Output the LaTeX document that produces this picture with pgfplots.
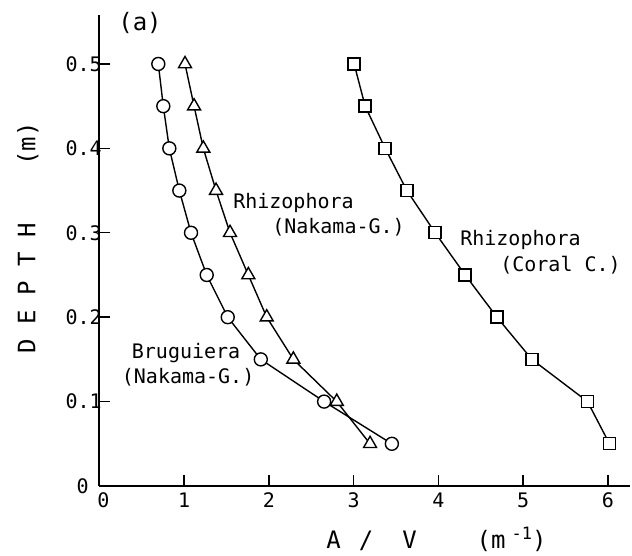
\documentclass[border=0pt]{standalone}
\usepackage{pgfplots}
\pgfplotsset{compat=1.18}
\usepackage{fontspec}
\setmainfont{DejaVu Sans Mono}
\begin{document}
\begin{tikzpicture}
\path[use as bounding box] (0,0) rectangle (632bp,556bp);
\begin{axis}[
 at={(99.3bp,70bp)}, anchor=south west,
 scale only axis, width=530.7bp, height=471bp,
 xmin=0, xmax=6.26, ymin=0, ymax=0.558,
 axis lines=left, axis line style={-, line width=1.6bp},
 xtick={0,1,2,3,4,5,6}, ytick={0,0.1,0.2,0.3,0.4,0.5},
 xticklabels={\hspace{8bp}0,1,2,3,4,5,6},
 yticklabels={\raisebox{-4bp}{0}\kern13bp\null,0.1,0.2,0.3,0.4,0.5},
 tick align=inside, major tick length=11bp,
 tick style={line width=1.4bp, black},
 /pgf/number format/assume math mode=true,
 ticklabel style={font=\fontsize{20bp}{24bp}\selectfont},
 yticklabel style={xshift=6bp},
 xticklabel style={yshift=-3bp},
 clip=false,
 every axis plot/.append style={line width=1.4bp, black},
]
% Bruguiera (Nakama-G.)
\addplot[mark=*, mark size=6.5bp, mark options={fill=white, solid, line width=1.4bp}] coordinates {
(0.696,0.5)(0.755,0.45)(0.826,0.4)(0.944,0.35)(1.082,0.3)(1.267,0.25)(1.515,0.2)(1.905,0.15)(2.652,0.1)(3.451,0.05)};
% Rhizophora (Nakama-G.)
\addplot[mark=triangle*, mark size=7.5bp, mark options={fill=white, solid, line width=1.4bp}] coordinates {
(1.011,0.5)(1.118,0.45)(1.227,0.4)(1.377,0.35)(1.542,0.3)(1.758,0.25)(1.975,0.2)(2.289,0.15)(2.801,0.1)(3.194,0.05)};
% Rhizophora (Coral C.)
\addplot[mark=square*, mark size=6bp, mark options={fill=white, solid, line width=1.4bp}] coordinates {
(3.006,0.5)(3.136,0.45)(3.372,0.4)(3.628,0.35)(3.962,0.3)(4.316,0.25)(4.690,0.2)(5.103,0.15)(5.759,0.1)(6.018,0.05)};

\begin{scope}[every node/.style={font=\fontsize{20bp}{24bp}\selectfont, inner sep=0pt, anchor=west}]
\node at (axis cs:1.578,0.335) {Rhizophora};
\node at (axis cs:2.038,0.307) {(Nakama-G.)};
\node at (axis cs:4.256,0.291) {Rhizophora};
\node at (axis cs:4.728,0.262) {(Coral C.)};
\node at (axis cs:0.382,0.158) {Bruguiera};
\node at (axis cs:0.264,0.129) {(Nakama-G.)};
\end{scope}
\node[font=\fontsize{24bp}{28bp}\selectfont, inner sep=0pt] at (axis cs:0.48,0.549) {(a)};
\node[font=\fontsize{24bp}{28bp}\selectfont, inner sep=0pt, rotate=90] at (axis cs:-0.843,0.294) {D\ E\ P\ T\ H\ \ \ \ (m)};
\node[font=\fontsize{24bp}{28bp}\selectfont, inner sep=0pt, anchor=base west] at (axis cs:2.676,-0.0735)
 {A\hspace{18bp}/\hspace{29bp}V\hspace{60bp}(m\hspace{6bp}\raisebox{9bp}{\fontsize{17bp}{17bp}\selectfont -1})};
\end{axis}
\end{tikzpicture}
\end{document}
